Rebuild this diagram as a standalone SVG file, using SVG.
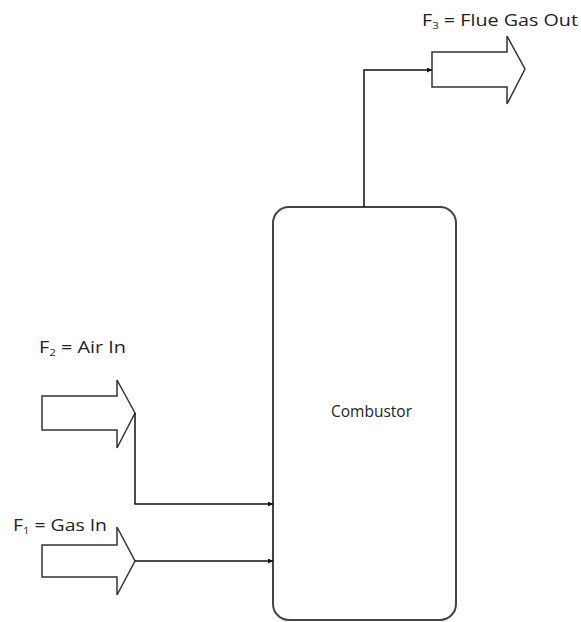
<svg xmlns="http://www.w3.org/2000/svg" width="581" height="622" viewBox="0 0 581 622">
<style>
.lbl{font-family:"Open Sans","Liberation Sans",sans-serif;font-size:15.5px;fill:#222}
.sub{font-size:9px}
.big{fill:#fff;stroke:#333;stroke-width:1.5;stroke-linejoin:miter}
.box{fill:#fff;stroke:#444;stroke-width:2}
.con{fill:none;stroke:#111;stroke-width:1.5}
</style>
<defs>
<marker id="ah" viewBox="0 0 10 10" refX="10" refY="5" markerWidth="5" markerHeight="5" orient="auto" markerUnits="userSpaceOnUse">
<path d="M0,0 L10,5 L0,10 z" fill="#111"/>
</marker>
</defs>
<g id="combustor">
<rect class="box" x="273" y="207" width="183" height="413" rx="16" ry="16"/>
<text class="lbl" x="371.5" y="417" text-anchor="middle">Combustor</text>
</g>
<g id="flue-gas-out">
<path class="big" d="M432,52 L507,52 L507,36 L525,69 L507,104 L507,87 L432,87 Z"/>
<text class="lbl" x="422" y="26" textLength="156" lengthAdjust="spacingAndGlyphs">F<tspan class="sub" dy="3">3</tspan><tspan dy="-3"> = Flue Gas Out</tspan></text>
</g>
<g id="air-in">
<path class="big" d="M42,396 L117,396 L117,380 L135,413 L117,448 L117,430 L42,430 Z"/>
<text class="lbl" x="39" y="353" textLength="87" lengthAdjust="spacingAndGlyphs">F<tspan class="sub" dy="3">2</tspan><tspan dy="-3"> = Air In</tspan></text>
</g>
<g id="gas-in">
<path class="big" d="M42,545 L117,545 L117,527 L135,561 L117,595 L117,577 L42,577 Z"/>
<text class="lbl" x="13" y="531" textLength="94" lengthAdjust="spacingAndGlyphs">F<tspan class="sub" dy="3">1</tspan><tspan dy="-3"> = Gas In</tspan></text>
</g>
<g id="connectors">
<path class="con" d="M364,207 L364,70 L432,70" marker-end="url(#ah)"/>
<path class="con" d="M135,413 L135,504 L273,504" marker-end="url(#ah)"/>
<path class="con" d="M135,561 L273,561" marker-end="url(#ah)"/>
</g>
</svg>
